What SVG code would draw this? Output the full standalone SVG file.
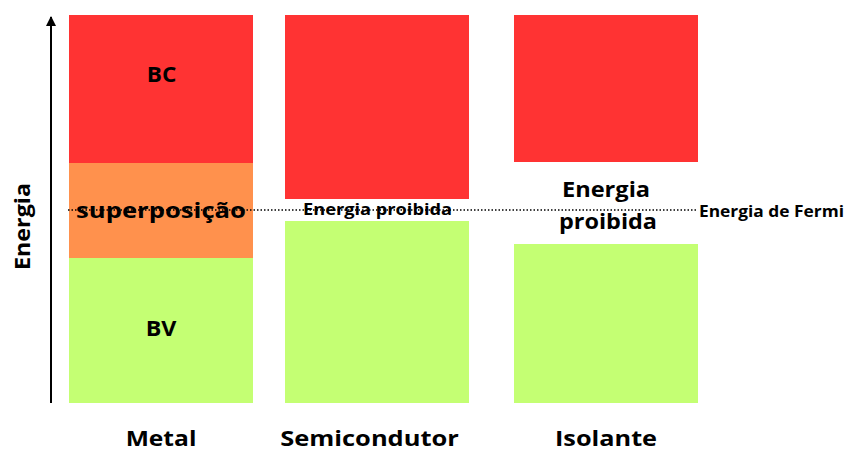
<svg xmlns="http://www.w3.org/2000/svg" width="850" height="451" viewBox="0 0 850 451">
<style>
.t{font-family:"Open Sans","Noto Sans","Liberation Sans",sans-serif;font-weight:bold;fill:#000;text-anchor:middle}
.s{text-anchor:start}
.bc{fill:#ff3333}
.bv{fill:#c4ff73}
.ov{fill:#ff914d}
</style>
<defs>
<marker id="ah" viewBox="0 0 10 10" refX="9" refY="5" markerWidth="5" markerHeight="5" orient="auto" markerUnits="strokeWidth">
<path d="M0,0 L10,5 L0,10 z" fill="#000"/>
</marker>
</defs>
<rect width="850" height="451" fill="#fff"/>
<g id="metal">
<rect class="bc" x="69" y="15" width="184" height="148"/>
<rect class="ov" x="69" y="163" width="184" height="95"/>
<rect class="bv" x="69" y="258" width="184" height="145"/>
<text class="t" transform="translate(161.5,82) scale(1.16,1)" font-size="22" textLength="25.5" lengthAdjust="spacingAndGlyphs">BC</text>
<text class="t" transform="translate(161,336) scale(1.16,1)" font-size="22" textLength="26.5" lengthAdjust="spacingAndGlyphs">BV</text>
</g>
<g id="semicondutor">
<rect class="bc" x="285" y="15" width="184" height="184"/>
<rect class="bv" x="285" y="221" width="184" height="182"/>
</g>
<g id="isolante">
<rect class="bc" x="514" y="15" width="184" height="147"/>
<rect class="bv" x="514" y="244" width="184" height="159"/>
<text class="t" transform="translate(606,197) scale(1.16,1)" font-size="22" textLength="76" lengthAdjust="spacingAndGlyphs">Energia</text>
<text class="t" transform="translate(608,229) scale(1.16,1)" font-size="22" textLength="84.5" lengthAdjust="spacingAndGlyphs">proibida</text>
</g>
<g id="connectors">
<line x1="51" y1="403" x2="51" y2="17" stroke="#000" stroke-width="2" marker-end="url(#ah)"/>
<line x1="68" y1="210" x2="697" y2="210" stroke="#000" stroke-width="1.5" stroke-dasharray="1.5 2"/>
</g>
<g id="labels">
<text class="t" transform="translate(161,218) scale(1.16,1)" font-size="22" textLength="146.5" lengthAdjust="spacingAndGlyphs">superposição</text>
<text class="t" transform="translate(377.5,215) scale(1.16,1)" font-size="15.5" textLength="128.5" lengthAdjust="spacingAndGlyphs">Energia proibida</text>
<text class="t s" x="699" y="217" font-size="16.5" textLength="145" lengthAdjust="spacingAndGlyphs">Energia de Fermi</text>
<text class="t" transform="translate(161,446) scale(1.16,1)" font-size="21.5" textLength="61" lengthAdjust="spacingAndGlyphs">Metal</text>
<text class="t" transform="translate(369.5,446) scale(1.16,1)" font-size="21.5" textLength="154" lengthAdjust="spacingAndGlyphs">Semicondutor</text>
<text class="t" transform="translate(606,446) scale(1.16,1)" font-size="21.5" textLength="88" lengthAdjust="spacingAndGlyphs">Isolante</text>
<text class="t" transform="translate(30,226.5) rotate(-90) scale(1.16,1)" font-size="22" textLength="75" lengthAdjust="spacingAndGlyphs">Energia</text>
</g>
</svg>
